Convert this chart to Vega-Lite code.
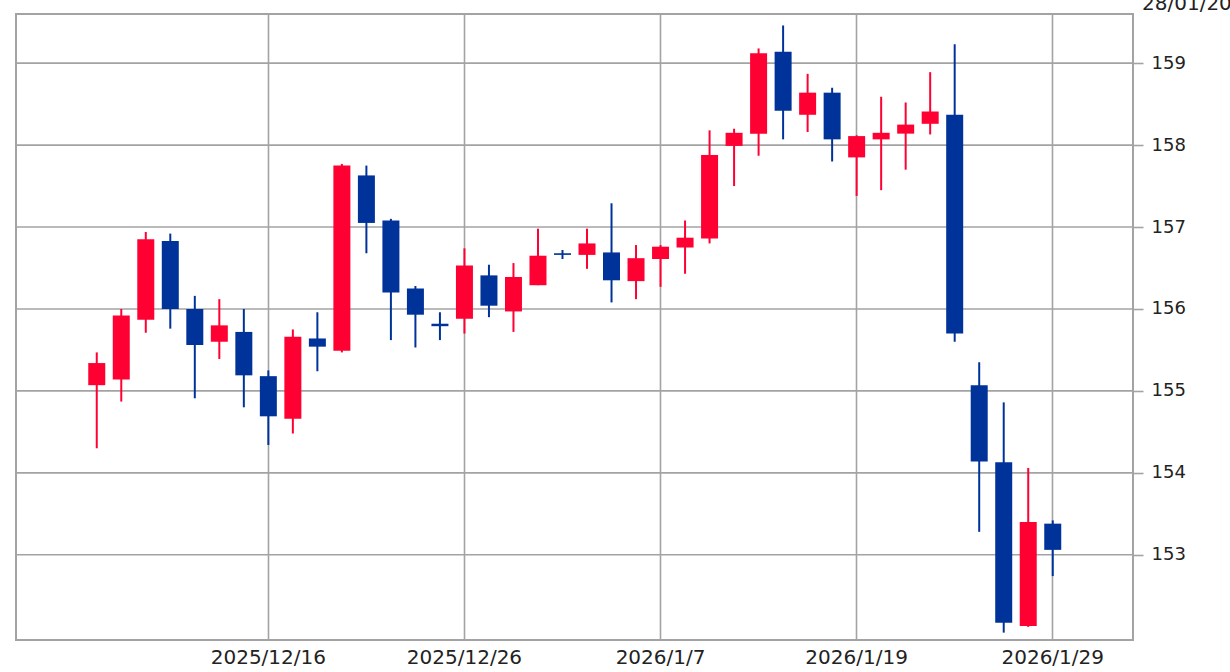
{
  "$schema": "https://vega.github.io/schema/vega-lite/v6.json",
  "width": 1117,
  "height": 626,
  "padding": {"left": 16, "top": 14, "right": 97, "bottom": 32},
  "autosize": {"type": "none"},
  "background": "white",
  "config": {
    "view": {"stroke": "#a3a3a3", "strokeWidth": 2},
    "font": "DejaVu Sans"
  },
  "title": {
    "text": "28/01/2026 15:00",
    "anchor": "end",
    "frame": "group",
    "align": "left",
    "dx": 9,
    "baseline": "alphabetic",
    "offset": -16,
    "fontSize": 20,
    "fontWeight": "normal",
    "color": "#222222"
  },
  "datasets": {
    "grid": [{"v": 153}, {"v": 154}, {"v": 155}, {"v": 156}, {"v": 157}, {"v": 158}, {"v": 159}],
    "ohlc": [
      {"date": "2025/12/5", "open": 155.07, "close": 155.34, "high": 155.47, "low": 154.30},
      {"date": "2025/12/8", "open": 155.14, "close": 155.92, "high": 156.00, "low": 154.87},
      {"date": "2025/12/9", "open": 155.87, "close": 156.85, "high": 156.94, "low": 155.71},
      {"date": "2025/12/10", "open": 156.83, "close": 156.00, "high": 156.92, "low": 155.76},
      {"date": "2025/12/11", "open": 156.00, "close": 155.56, "high": 156.16, "low": 154.91},
      {"date": "2025/12/12", "open": 155.60, "close": 155.80, "high": 156.12, "low": 155.39},
      {"date": "2025/12/15", "open": 155.72, "close": 155.19, "high": 156.00, "low": 154.80},
      {"date": "2025/12/16", "open": 155.18, "close": 154.69, "high": 155.25, "low": 154.34},
      {"date": "2025/12/17", "open": 154.66, "close": 155.66, "high": 155.75, "low": 154.48},
      {"date": "2025/12/18", "open": 155.64, "close": 155.54, "high": 155.96, "low": 155.24},
      {"date": "2025/12/19", "open": 155.49, "close": 157.75, "high": 157.77, "low": 155.47},
      {"date": "2025/12/22", "open": 157.63, "close": 157.05, "high": 157.75, "low": 156.68},
      {"date": "2025/12/23", "open": 157.08, "close": 156.20, "high": 157.10, "low": 155.62},
      {"date": "2025/12/24", "open": 156.25, "close": 155.93, "high": 156.28, "low": 155.53},
      {"date": "2025/12/25", "open": 155.82, "close": 155.79, "high": 155.96, "low": 155.62},
      {"date": "2025/12/26", "open": 155.88, "close": 156.53, "high": 156.74, "low": 155.70},
      {"date": "2025/12/29", "open": 156.41, "close": 156.04, "high": 156.54, "low": 155.90},
      {"date": "2025/12/30", "open": 155.97, "close": 156.39, "high": 156.56, "low": 155.72},
      {"date": "2025/12/31", "open": 156.29, "close": 156.65, "high": 156.98, "low": 156.29},
      {"date": "2026/1/1", "open": 156.68, "close": 156.66, "high": 156.72, "low": 156.61},
      {"date": "2026/1/2", "open": 156.66, "close": 156.80, "high": 156.98, "low": 156.49},
      {"date": "2026/1/5", "open": 156.69, "close": 156.35, "high": 157.29, "low": 156.08},
      {"date": "2026/1/6", "open": 156.34, "close": 156.62, "high": 156.78, "low": 156.12},
      {"date": "2026/1/7", "open": 156.61, "close": 156.76, "high": 156.78, "low": 156.27},
      {"date": "2026/1/8", "open": 156.75, "close": 156.87, "high": 157.08, "low": 156.43},
      {"date": "2026/1/9", "open": 156.86, "close": 157.88, "high": 158.18, "low": 156.80},
      {"date": "2026/1/12", "open": 157.99, "close": 158.15, "high": 158.20, "low": 157.50},
      {"date": "2026/1/13", "open": 158.14, "close": 159.12, "high": 159.18, "low": 157.87},
      {"date": "2026/1/14", "open": 159.14, "close": 158.42, "high": 159.46, "low": 158.07},
      {"date": "2026/1/15", "open": 158.37, "close": 158.64, "high": 158.87, "low": 158.16},
      {"date": "2026/1/16", "open": 158.64, "close": 158.07, "high": 158.70, "low": 157.80},
      {"date": "2026/1/19", "open": 157.85, "close": 158.11, "high": 158.12, "low": 157.38},
      {"date": "2026/1/20", "open": 158.07, "close": 158.15, "high": 158.59, "low": 157.45},
      {"date": "2026/1/21", "open": 158.14, "close": 158.25, "high": 158.52, "low": 157.70},
      {"date": "2026/1/22", "open": 158.26, "close": 158.41, "high": 158.89, "low": 158.13},
      {"date": "2026/1/23", "open": 158.37, "close": 155.70, "high": 159.23, "low": 155.60},
      {"date": "2026/1/26", "open": 155.07, "close": 154.14, "high": 155.35, "low": 153.28},
      {"date": "2026/1/27", "open": 154.13, "close": 152.17, "high": 154.86, "low": 152.05},
      {"date": "2026/1/28", "open": 152.13, "close": 153.40, "high": 154.06, "low": 152.12},
      {"date": "2026/1/29", "open": 153.38, "close": 153.06, "high": 153.42, "low": 152.74}
    ]
  },
  "layer": [
    {
      "data": {"name": "grid"},
      "mark": {"type": "rule", "stroke": "#a3a3a3", "strokeWidth": 1.6},
      "encoding": {
        "y": {
          "field": "v",
          "type": "quantitative",
          "scale": {"domain": [151.96, 159.6], "nice": false, "zero": false},
          "axis": {
            "title": null,
            "orient": "right",
            "values": [153, 154, 155, 156, 157, 158, 159],
            "format": "d",
            "grid": false,
            "tickColor": "#a3a3a3",
            "tickWidth": 1.6,
            "tickSize": 10,
            "domain": false,
            "labelFontSize": 18,
            "labelColor": "#222222",
            "labelPadding": 8
          }
        }
      }
    },
    {
      "data": {"name": "ohlc"},
      "encoding": {
        "x": {
          "field": "date",
          "type": "ordinal",
          "sort": null,
          "scale": {"paddingInner": 0, "paddingOuter": 0, "range": [68.5, 1049]},
          "axis": {
            "title": null,
            "values": ["2025/12/16", "2025/12/26", "2026/1/7", "2026/1/19", "2026/1/29"],
            "bandPosition": 0.5,
            "grid": true,
            "gridColor": "#a3a3a3",
            "gridWidth": 1.6,
            "ticks": false,
            "domain": false,
            "labelAngle": 0,
            "labelFontSize": 20,
            "labelColor": "#222222",
            "labelPadding": 7,
            "labelBaseline": "top"
          }
        },
        "color": {
          "condition": {"test": "datum.close >= datum.open", "value": "#ff0033"},
          "value": "#003399"
        }
      },
      "layer": [
        {
          "mark": {"type": "rule", "strokeWidth": 2},
          "encoding": {
            "y": {"field": "low", "type": "quantitative"},
            "y2": {"field": "high"}
          }
        },
        {
          "mark": {"type": "bar", "size": 17},
          "encoding": {
            "y": {"field": "open", "type": "quantitative"},
            "y2": {"field": "close"}
          }
        }
      ]
    }
  ]
}
